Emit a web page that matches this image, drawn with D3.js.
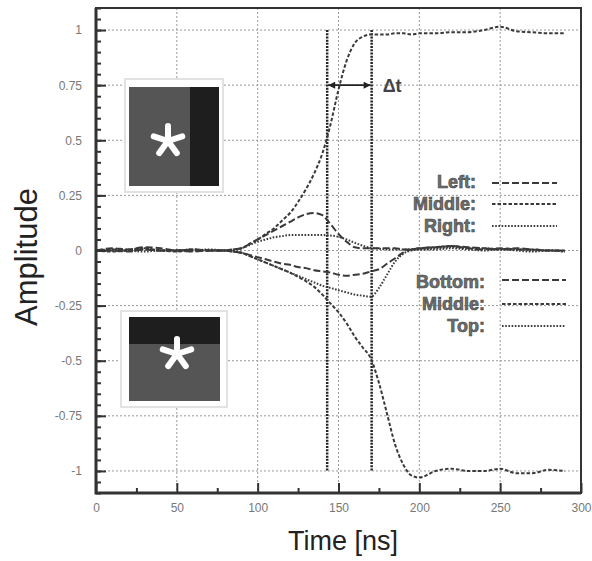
<!DOCTYPE html>
<html>
<head>
<meta charset="utf-8">
<script src="https://cdn.jsdelivr.net/npm/d3@7"></script>
<style>
  body { margin: 0; background: #fff; }
  svg { font-family: "Liberation Sans", Arial, sans-serif; }
  .tick text { fill: #777; font-size: 12px; }
</style>
</head>
<body>
<script>
"use strict";

///////////////////
// data
///////////////////
var time = [0, 10, 20, 30, 40, 50, 60, 70, 80,
  85, 90, 95, 100, 105, 110, 115, 120, 125, 130, 135, 140, 145, 150,
  155, 160, 165, 170, 175, 180, 185, 190, 195, 200,
  210, 220, 230, 240, 250, 260, 270, 280, 290];

// left / middle / right group
var leftAmp = [0, 0.01, 0.005, 0.015, 0.01, 0, 0.005, 0, 0,
  0.005, 0.01, 0.03, 0.05, 0.07, 0.09, 0.11, 0.13, 0.15, 0.165, 0.17, 0.16, 0.12, 0.075,
  0.04, 0.015, 0.01, 0.01, 0.01, 0.01, 0.01, 0.005, 0.005, 0.01,
  0.015, 0.02, 0.015, 0.01, 0.005, 0.01, 0.005, 0, 0];
var middleAmp = [0, 0.005, 0, 0.01, 0, 0, 0.005, 0, 0,
  0.005, 0.01, 0.03, 0.05, 0.075, 0.1, 0.135, 0.17, 0.22, 0.28, 0.35, 0.44, 0.57, 0.73,
  0.86, 0.94, 0.97, 0.98, 0.98, 0.98, 0.985, 0.985, 0.98, 0.985,
  0.985, 0.99, 0.99, 1.0, 1.015, 0.995, 0.99, 0.985, 0.985];
var rightAmp = [0, 0, 0.005, 0.01, 0, 0, 0, 0.005, 0,
  0, 0.01, 0.025, 0.04, 0.05, 0.06, 0.065, 0.07, 0.07, 0.07, 0.07, 0.07, 0.068, 0.062,
  0.05, 0.035, 0.022, 0.012, 0.008, 0.005, 0.005, 0.005, 0.005, 0.005,
  0.01, 0.015, 0.01, 0.01, 0.005, 0.005, 0, 0, -0.005];

// bottom / middle / top group
var bottomAmp = [0, 0, -0.005, 0.005, 0, 0, -0.005, 0, 0,
  -0.005, -0.01, -0.02, -0.03, -0.04, -0.05, -0.06, -0.065, -0.075, -0.08, -0.09, -0.095, -0.1, -0.11,
  -0.115, -0.11, -0.105, -0.095, -0.085, -0.06, -0.035, -0.01, 0.005, 0.01,
  0.015, 0.02, 0.01, 0.005, 0.01, 0.005, 0.005, 0, 0];
var middle2Amp = [0, -0.005, 0, 0.005, 0, -0.005, 0, 0, 0,
  -0.005, -0.01, -0.025, -0.04, -0.055, -0.07, -0.085, -0.1, -0.12, -0.14, -0.165, -0.2, -0.24, -0.28,
  -0.33, -0.39, -0.44, -0.49, -0.6, -0.74, -0.88, -0.97, -1.02, -1.03,
  -1.0, -0.99, -1.0, -1.0, -0.99, -1.01, -1.01, -0.995, -1.0];
var topAmp = [0, 0.005, 0, -0.005, 0, 0, 0.005, 0, 0,
  -0.005, -0.01, -0.025, -0.04, -0.055, -0.07, -0.085, -0.1, -0.115, -0.13, -0.145, -0.16, -0.17, -0.18,
  -0.19, -0.2, -0.205, -0.21, -0.17, -0.11, -0.05, -0.015, 0, 0.005,
  0.005, 0.01, 0.005, 0, 0.005, 0, -0.005, 0, -0.005];

var seriesNames = ["Left:", "Middle:", "Right:", "Bottom:", "Middle:", "Top:"];
var seriesValues = [leftAmp, middleAmp, rightAmp, bottomAmp, middle2Amp, topAmp];

var xTicks = [0, 50, 100, 150, 200, 250, 300];
var xMinorTicks = [25, 75, 125, 175, 225, 275];
var yTicks = [-1, -0.75, -0.5, -0.25, 0, 0.25, 0.5, 0.75, 1];
var markerTimes = [143, 170.5];   // the two delta-t lines

///////////////////
// layout
///////////////////
var width = 592, height = 561;
var plotLeft = 96, plotRight = 581, plotTop = 8, plotBottom = 493;
var lineColor = "#3a3a3a";
var dashes = ["7,3", "3.5,2", "1.6,1.6", "7,3", "3.5,2", "1.6,1.6"];

var x = d3.scaleLinear().domain([0, 300]).range([plotLeft, plotRight]);
var y = d3.scaleLinear().domain([-1.1, 1.1]).range([plotBottom, plotTop]);

var svg = d3.select("body").append("svg")
    .attr("width", width)
    .attr("height", height);

// grid
var grid = svg.append("g").attr("class", "grid")
    .attr("stroke", "#999").attr("stroke-width", 1).attr("stroke-dasharray", "2,2");
grid.selectAll("line.gx")
    .data(xTicks.filter(function(d) { return d > 0 && d < 300; }))
    .enter().append("line")
    .attr("class", "gx")
    .attr("x1", function(d) { return x(d); }).attr("x2", function(d) { return x(d); })
    .attr("y1", plotTop).attr("y2", plotBottom);
grid.selectAll("line.gy")
    .data(yTicks)
    .enter().append("line")
    .attr("class", "gy")
    .attr("y1", function(d) { return y(d); }).attr("y2", function(d) { return y(d); })
    .attr("x1", plotLeft).attr("x2", plotRight);

// delta-t marker lines
svg.selectAll("line.marker")
    .data(markerTimes)
    .enter().append("line")
    .attr("class", "marker")
    .attr("x1", function(d) { return x(d); }).attr("x2", function(d) { return x(d); })
    .attr("y1", y(1)).attr("y2", y(-1))
    .attr("stroke", "#222").attr("stroke-width", 2.5).attr("stroke-dasharray", "2,1.2");

// arrow
var defs = svg.append("defs");
defs.append("marker")
    .attr("id", "arrow")
    .attr("viewBox", "0 0 10 10")
    .attr("refX", 10).attr("refY", 5)
    .attr("markerWidth", 9).attr("markerHeight", 7)
    .attr("markerUnits", "userSpaceOnUse")
    .attr("orient", "auto-start-reverse")
    .append("path").attr("d", "M0,0L10,5L0,10Z").attr("fill", "#222");
svg.append("line")
    .attr("x1", x(markerTimes[0]) + 1).attr("x2", x(markerTimes[1]) - 1)
    .attr("y1", y(0.75)).attr("y2", y(0.75))
    .attr("stroke", "#222").attr("stroke-width", 1.6)
    .attr("marker-start", "url(#arrow)").attr("marker-end", "url(#arrow)");
svg.append("text")
    .attr("x", x(markerTimes[1]) + 11).attr("y", y(0.75) + 7)
    .attr("font-size", 18).attr("font-weight", "bold").attr("fill", "#444")
    .text("Δt");

// curves
var line = d3.line()
    .x(function(d) { return x(d[0]); })
    .y(function(d) { return y(d[1]); })
    .curve(d3.curveMonotoneX);

svg.selectAll("path.series")
    .data(seriesValues)
    .enter().append("path")
    .attr("class", "series")
    .attr("fill", "none")
    .attr("stroke", lineColor)
    .attr("stroke-width", 2)
    .attr("stroke-dasharray", function(d, i) { return dashes[i]; })
    .attr("d", function(d) { return line(time.map(function(t, j) { return [t, d[j]]; })); });

// insets (photos of the detector)
function drawInset(ox, oy, ow, oh, ix, iy, iw, ih, vertical, split, cx, cy) {
    var g = svg.append("g");
    g.append("rect").attr("x", ox).attr("y", oy).attr("width", ow).attr("height", oh)
        .attr("fill", "#fff").attr("stroke", "#e2e2e2").attr("stroke-width", 2);
    g.append("rect").attr("x", ix).attr("y", iy).attr("width", iw).attr("height", ih)
        .attr("fill", "#555");
    if (vertical) {
        g.append("rect").attr("x", split).attr("y", iy).attr("width", ix + iw - split).attr("height", ih)
            .attr("fill", "#1e1e1e");
    } else {
        g.append("rect").attr("x", ix).attr("y", iy).attr("width", iw).attr("height", split - iy)
            .attr("fill", "#1e1e1e");
    }
    // five-armed asterisk
    var arms = d3.range(5).map(function(k) { return -90 + k * 72; });
    g.selectAll("line.arm").data(arms).enter().append("line")
        .attr("x1", cx).attr("y1", cy)
        .attr("x2", function(a) { return cx + 15 * Math.cos(a * Math.PI / 180); })
        .attr("y2", function(a) { return cy + 15 * Math.sin(a * Math.PI / 180); })
        .attr("stroke", "#fff").attr("stroke-width", 6).attr("stroke-linecap", "round");
}
drawInset(125, 79, 98, 113, 129, 87, 90, 99, true, 190, 168, 141);
drawInset(121, 311, 106, 96, 129, 317, 91, 84, false, 344, 177, 354);

// legend
var legendRows = [
    {tx: 476, ty: 188, x1: 492, x2: 557, ly: 183},
    {tx: 476, ty: 210, x1: 492, x2: 557, ly: 204},
    {tx: 476, ty: 232, x1: 492, x2: 557, ly: 226},
    {tx: 485, ty: 288, x1: 502, x2: 566, ly: 280},
    {tx: 485, ty: 310, x1: 502, x2: 566, ly: 304},
    {tx: 485, ty: 332, x1: 502, x2: 566, ly: 326}
];
var legend = svg.selectAll("g.legend")
    .data(legendRows)
    .enter().append("g").attr("class", "legend");
legend.append("text")
    .attr("x", function(d) { return d.tx; })
    .attr("y", function(d) { return d.ty; })
    .attr("text-anchor", "end")
    .attr("font-size", 18).attr("font-weight", "bold")
    .attr("fill", "#6e6e6e").attr("stroke", "#444").attr("stroke-width", 0.6)
    .text(function(d, i) { return seriesNames[i]; });
legend.append("line")
    .attr("x1", function(d) { return d.x1; }).attr("x2", function(d) { return d.x2; })
    .attr("y1", function(d) { return d.ly; }).attr("y2", function(d) { return d.ly; })
    .attr("stroke", lineColor).attr("stroke-width", 2)
    .attr("stroke-dasharray", function(d, i) { return dashes[i]; });

// axes
var minorY = d3.range(-22, 23).map(function(k) { return k * 0.05; });

svg.append("g")
    .attr("transform", "translate(" + plotLeft + ",0)")
    .call(d3.axisLeft(y).tickValues(minorY).tickSize(-5).tickFormat(""))
    .call(function(g) { g.select(".domain").remove(); });
svg.append("g")
    .attr("transform", "translate(" + plotLeft + ",0)")
    .call(d3.axisLeft(y).tickValues(yTicks).tickSize(-10).tickPadding(14)
        .tickFormat(function(d) { return String(d); }))
    .call(function(g) { g.select(".domain").remove(); });

svg.append("g")
    .attr("transform", "translate(0," + plotBottom + ")")
    .call(d3.axisBottom(x).tickValues(xMinorTicks).tickSize(-5).tickFormat(""))
    .call(function(g) { g.select(".domain").remove(); });
svg.append("g")
    .attr("transform", "translate(0," + plotBottom + ")")
    .call(d3.axisBottom(x).tickValues(xTicks).tickSize(-10).tickPadding(10))
    .call(function(g) { g.select(".domain").remove(); });

svg.selectAll(".tick line").attr("stroke", "#333").attr("stroke-width", 2);

// frame
svg.append("rect")
    .attr("x", plotLeft).attr("y", plotTop)
    .attr("width", plotRight - plotLeft).attr("height", plotBottom - plotTop)
    .attr("fill", "none").attr("stroke", "#333").attr("stroke-width", 2);
svg.append("path")
    .attr("d", "M" + plotLeft + "," + plotTop + "V" + plotBottom + "H" + plotRight)
    .attr("fill", "none").attr("stroke", "#333").attr("stroke-width", 3);

// axis titles
svg.append("text")
    .attr("transform", "translate(37,257) rotate(-90)")
    .attr("text-anchor", "middle")
    .attr("font-size", 31).attr("fill", "#222")
    .text("Amplitude");
svg.append("text")
    .attr("x", 343).attr("y", 550)
    .attr("text-anchor", "middle")
    .attr("font-size", 27).attr("fill", "#222")
    .text("Time [ns]");
</script>
</body>
</html>
